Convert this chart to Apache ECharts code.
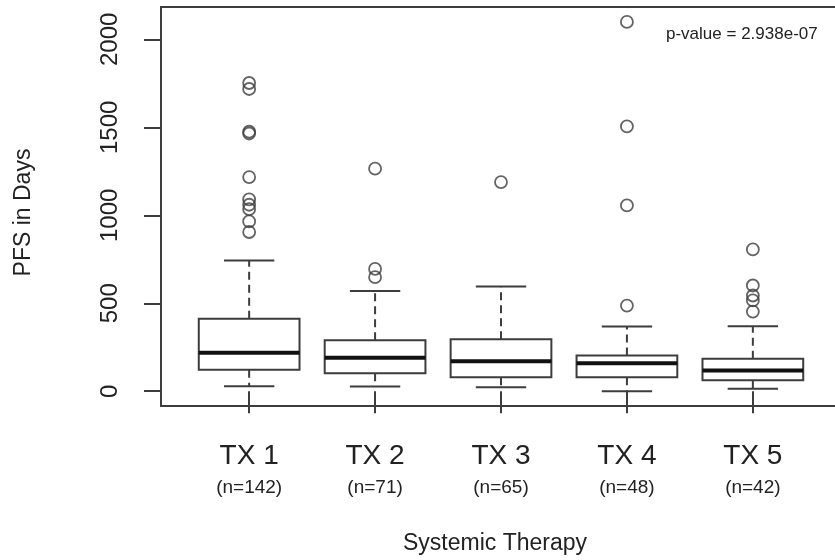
<!DOCTYPE html>
<html>
<head>
<meta charset="utf-8">
<script src="https://cdn.jsdelivr.net/npm/echarts@6/dist/echarts.min.js"></script>
<style>
    html, body { margin: 0; padding: 0; background: #fff; }
    #chart { width: 835px; height: 560px; }
</style>
</head>
<body>
<div id="chart"></div>
<script>
// group labels and sample sizes
const categories = ['TX 1', 'TX 2', 'TX 3', 'TX 4', 'TX 5'];
const counts = [142, 71, 65, 48, 42];

// box statistics (days)
const whiskerLow = [28, 27, 23, 0, 14];
const q1 = [122, 102, 80, 80, 62];
const medians = [218, 190, 171, 159, 118];
const q3 = [412, 290, 296, 203, 184];
const whiskerHigh = [743, 569, 595, 368, 370];

// outlying points per group
const outliers = [
    [1752, 1718, 1475, 1465, 1217, 1090, 1060, 1035, 965, 905],
    [1265, 695, 648],
    [1189],
    [2099, 1505, 1056, 487],
    [806, 601, 544, 516, 453]
];

const yTicks = [0, 500, 1000, 1500, 2000];
const xTicks = [1, 2, 3, 4, 5];
const pValueText = 'p-value = 2.938e-07';

const LINE = '#3d3d3d';
const TEXT = '#222';
const FONT = '"Liberation Sans", Arial, Helvetica, sans-serif';

const boxData = categories.map((c, i) => [i + 1, whiskerLow[i], q1[i], medians[i], q3[i], whiskerHigh[i]]);
const outlierData = [];
outliers.forEach((list, i) => list.forEach(v => outlierData.push([i + 1, v])));

function renderBox(params, api) {
    const x = api.value(0);
    const lo = api.value(1), b1 = api.value(2), med = api.value(3), b3 = api.value(4), hi = api.value(5);
    const halfBox = 0.4, halfCap = 0.2;
    const pt = (dx, v) => api.coord([x + dx, v]);

    const tl = pt(-halfBox, b3), br = pt(halfBox, b1);
    const solid = { stroke: LINE, lineWidth: 2, fill: null };
    const dashed = { stroke: LINE, lineWidth: 2, lineDash: [8, 5] };

    const line = (a, b, style) => ({
        type: 'line',
        shape: { x1: a[0], y1: a[1], x2: b[0], y2: b[1] },
        style: style
    });

    return {
        type: 'group',
        children: [
            line(pt(0, b3), pt(0, hi), dashed),
            line(pt(0, b1), pt(0, lo), dashed),
            line(pt(-halfCap, hi), pt(halfCap, hi), solid),
            line(pt(-halfCap, lo), pt(halfCap, lo), solid),
            {
                type: 'rect',
                shape: { x: tl[0], y: tl[1], width: br[0] - tl[0], height: br[1] - tl[1] },
                style: { stroke: LINE, lineWidth: 2, fill: '#fff' }
            },
            line(pt(-halfBox, med), pt(halfBox, med), { stroke: '#111', lineWidth: 4 })
        ]
    };
}

const chart = echarts.init(document.getElementById('chart'), null, { renderer: 'canvas' });

chart.setOption({
    backgroundColor: '#fff',
    animation: false,
    title: {
        text: pValueText,
        left: 666,
        top: 26,
        padding: 0,
        textStyle: { fontSize: 17, fontWeight: 'normal', color: TEXT, fontFamily: FONT }
    },
    grid: {
        left: 161,
        width: 680,
        top: 7,
        height: 399,
        outerBoundsMode: 'none',
        show: true,
        borderColor: LINE,
        borderWidth: 2,
        backgroundColor: 'transparent'
    },
    xAxis: {
        type: 'value',
        min: 0.3,
        max: 5.7,
        name: 'Systemic Therapy',
        nameLocation: 'middle',
        nameGap: 126,
        nameTextStyle: { fontSize: 23, color: TEXT, fontFamily: FONT, padding: [0, 12, 0, 0] },
        axisLine: { show: false },
        splitLine: { show: false },
        axisTick: {
            show: true,
            customValues: xTicks,
            length: 22,
            lineStyle: { color: LINE, width: 2 }
        },
        axisLabel: {
            customValues: xTicks,
            margin: 33,
            formatter: v => '{a|' + categories[v - 1] + '}\n{b|(n=' + counts[v - 1] + ')}',
            rich: {
                a: { fontSize: 28, lineHeight: 34, color: TEXT, fontFamily: FONT },
                b: { fontSize: 19, lineHeight: 30, color: TEXT, fontFamily: FONT }
            }
        }
    },
    yAxis: {
        type: 'value',
        min: -84,
        max: 2184,
        name: 'PFS in Days',
        nameLocation: 'middle',
        nameGap: 126,
        nameTextStyle: { fontSize: 23, color: TEXT, fontFamily: FONT, padding: [0, 12, 0, 0] },
        axisLine: { show: false },
        splitLine: { show: false },
        axisTick: {
            show: true,
            customValues: yTicks,
            length: 17,
            lineStyle: { color: LINE, width: 2 }
        },
        axisLabel: {
            customValues: yTicks,
            formatter: v => String(v),
            rotate: 90,
            margin: 39,
            fontSize: 24,
            color: TEXT,
            fontFamily: FONT
        }
    },
    series: [
        {
            type: 'custom',
            renderItem: renderBox,
            data: boxData,
            encode: { x: 0, y: [1, 2, 3, 4, 5] },
            z: 2
        },
        {
            type: 'scatter',
            data: outlierData,
            symbol: 'circle',
            symbolSize: 12,
            itemStyle: { color: 'rgba(0,0,0,0)', borderColor: LINE, borderWidth: 1.8 },
            z: 3
        }
    ]
});
</script>
</body>
</html>
